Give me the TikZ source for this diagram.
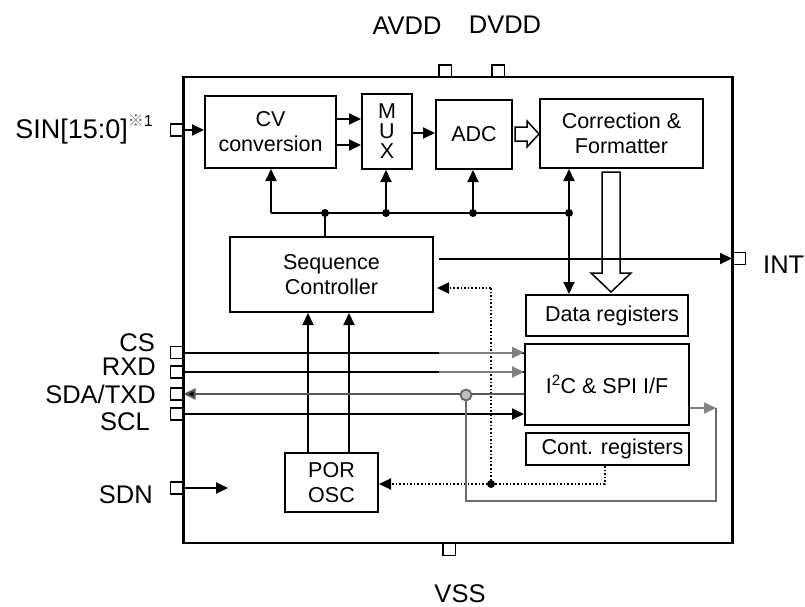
\documentclass[tikz,border=0pt]{standalone}
\usepackage{fontspec}
\setmainfont{Liberation Sans}
\newfontfamily\cjkfont{Noto Sans CJK SC}
\usetikzlibrary{arrows.meta,calc}
\begin{document}
\begin{tikzpicture}[x=1pt,y=-1pt,
  blk/.style={draw, line width=2pt, inner sep=0pt, align=center, font=\fontsize{21.5}{25}\selectfont},
  pin/.style={draw, line width=1.5pt, fill=white, minimum width=12.5pt, minimum height=12pt, inner sep=0pt},
  plbl/.style={font=\fontsize{25.5}{28}\selectfont, inner sep=0pt},
  tip/.style={-{Triangle[length=12pt,width=11pt]}},
  arr/.style={line width=2pt, tip},
  ln/.style={line width=2pt},
  garr/.style={line width=2pt, gray, tip},
  gln/.style={line width=1.6pt, gray!85!black},
  dotl/.style={line width=2pt, dash pattern=on 1.6pt off 2pt},
  jdot/.style={circle, fill, inner sep=0pt, minimum size=8pt},
  hollow/.style={line width=1.5pt, fill=white},
]
\useasboundingbox (0,0) rectangle (805,607);

% chip outline
\node[draw, line width=2.8pt, minimum width=549pt, minimum height=466pt, inner sep=0pt] (chip) at (458.25,310) {};

% blocks
\node[blk, minimum width=131pt, minimum height=72pt] (CV) at (270.5,132) {CV\\conversion};
\node[blk, minimum width=50pt, minimum height=75pt, font=\fontsize{21.5}{20}\selectfont] (MUX) at (387,131.5) {M\\U\\X};
\node[blk, minimum width=76pt, minimum height=69pt] (ADC) at (474,134.5) {ADC};
\node[blk, minimum width=163pt, minimum height=69pt] (CF) at (621.5,133.5) {Correction \&\\Formatter};
\node[blk, minimum width=203pt, minimum height=75pt] (SC) at (331.5,274.5) {Sequence\\Controller};
\node[blk, minimum width=162pt, minimum height=41pt] (DR) at (607,315.5) {\hspace*{10pt}Data registers};
\node[blk, minimum width=164pt, minimum height=81pt] (I2C) at (607,384.5) {\raisebox{-8pt}{I\textsuperscript{2}C \& SPI I/F}};
\node[blk, minimum width=163pt, minimum height=32pt] (CR) at (607.5,449) {\hspace*{10pt}Cont. registers};
\node[blk, minimum width=93pt, minimum height=59pt] (POR) at (331.5,482.5) {POR\\OSC};

% pins
\node[pin] (pSIN) at (176.5,130) {};
\node[pin] (pCS) at (176.5,352.5) {};
\node[pin] (pRXD) at (176.5,372) {};
\node[pin] (pSDA) at (176.5,394) {};
\node[pin] (pSCL) at (176.5,414) {};
\node[pin] (pSDN) at (176.5,488) {};
\node[pin] (pAVDD) at (445,71) {};
\node[pin] (pDVDD) at (498,71) {};
\node[pin] (pVSS) at (449,549.5) {};
\node[pin] (pINT) at (739,258.5) {};

% pin labels
\node[plbl, anchor=base east] (lSIN) at (153,138) {\fontsize{27}{28}\selectfont SIN[15:0]\raisebox{11pt}{\fontsize{16}{16}\selectfont{\cjkfont\textcolor{gray!80!black}{※}}1}};
\node[plbl, anchor=base east] (lCS) at (155,351) {CS};
\node[plbl, anchor=base east] (lRXD) at (156,375) {RXD};
\node[plbl, anchor=base east] (lSDA) at (156,403) {SDA/TXD};
\node[plbl, anchor=base east] (lSCL) at (150,430) {SCL};
\node[plbl, anchor=base east] (lSDN) at (153,503) {SDN};
\node[plbl, anchor=base] (lAVDD) at (407,35) {AVDD};
\node[plbl, anchor=base] (lDVDD) at (505,34) {DVDD};
\node[plbl, anchor=base] (lVSS) at (460,602) {VSS};
\node[plbl, anchor=base west] (lINT) at (763,273) {INT};

% signal path
\draw[arr] (pSIN.east) -- (CV.west |- pSIN);
\coordinate (m1) at (0,119);
\coordinate (m2) at (0,145);
\coordinate (m3) at (0,133);
\draw[arr] (CV.east |- m1) -- (MUX.west |- m1);
\draw[arr] (CV.east |- m2) -- (MUX.west |- m2);
\draw[arr] (MUX.east |- m3) -- (ADC.west |- m3);
% hollow arrow ADC -> CF
\draw[hollow] (515,127) -- (527,127) -- (527,121) -- (539,134) -- (527,147) -- (527,141) -- (515,141) -- cycle;

% control bus
\coordinate (b1) at (271,213);
\coordinate (b2) at (325,213);
\coordinate (b3) at (386,213);
\coordinate (b4) at (473,213);
\coordinate (b5) at (569,213);
\draw[ln] (b1) -- (b5);
\draw[arr] (b1) -- (CV.south -| b1);
\draw[arr] (b3) -- (MUX.south -| b3);
\draw[arr] (b4) -- (ADC.south -| b4);
\draw[arr] (b5) -- (CF.south -| b5);
\draw[arr] (b5) -- (DR.north -| b5);
\draw[ln] (b2) -- (SC.north -| b2);
\node[jdot] (d2) at (b2) {};
\node[jdot] (d3) at (b3) {};
\node[jdot] (d4) at (b4) {};
\node[jdot] (d5) at (b5) {};

% wide hollow arrow CF -> DR
\draw[hollow, fill=none] (602,172) -- (620,172) -- (620,273) -- (631,273) -- (611,292) -- (591,273) -- (602,273) -- cycle;

% interrupt
\draw[arr] ($(SC.east |- pINT)+(5,0)$) -- (pINT.west);

% POR/OSC -> sequence controller
\coordinate (p1) at (308,0);
\coordinate (p2) at (349,0);
\draw[arr] (POR.north -| p1) -- (SC.south -| p1);
\draw[arr] (POR.north -| p2) -- (SC.south -| p2);

% dotted control from Cont. registers
\coordinate (c1) at (605,484);
\coordinate (dj) at (491,484);
\coordinate (c2) at (491,288);
\draw[dotl] (CR.south -| c1) -- (c1) -- (dj);
\draw[dotl, tip] (dj) -- (POR.east |- dj);
\draw[dotl] (dj) -- (c2);
\draw[dotl, tip] (c2) -- ($(SC.east |- c2)+(3,0)$);
\node[jdot] (ddj) at (dj) {};

% serial interface
\draw[ln] (pCS.east) -- (I2C.west |- pCS);
\draw[garr] ($(I2C.west |- pCS)+(-85,0)$) -- (I2C.west |- pCS);
\draw[ln] (pRXD.east) -- (I2C.west |- pRXD);
\draw[garr] ($(I2C.west |- pRXD)+(-85,0)$) -- (I2C.west |- pRXD);
\draw[line width=2pt, gray!70!black, -{Triangle[length=12pt,width=11pt,fill=black]}] (I2C.west |- pSDA) -- (pSDA.east);
\draw[arr] (pSCL.east) -- (I2C.west |- pSCL);

% SDA loop-back
\coordinate (lpA) at (466,501);
\coordinate (lpB) at (716,501);
\coordinate (lpC) at (716,408);
\node[circle, draw=gray!80!black, fill=gray!50, line width=1.8pt, minimum size=11pt, inner sep=0pt] (hop) at (466,395) {};
\draw[gln] (hop.south) -- (lpA) -- (lpB) -- (lpC);
\draw[garr] (I2C.east |- lpC) -- (lpC);

% SDN
\coordinate (sdn) at (228,488);
\draw[arr] (pSDN.east) -- (sdn);
\end{tikzpicture}
\end{document}
